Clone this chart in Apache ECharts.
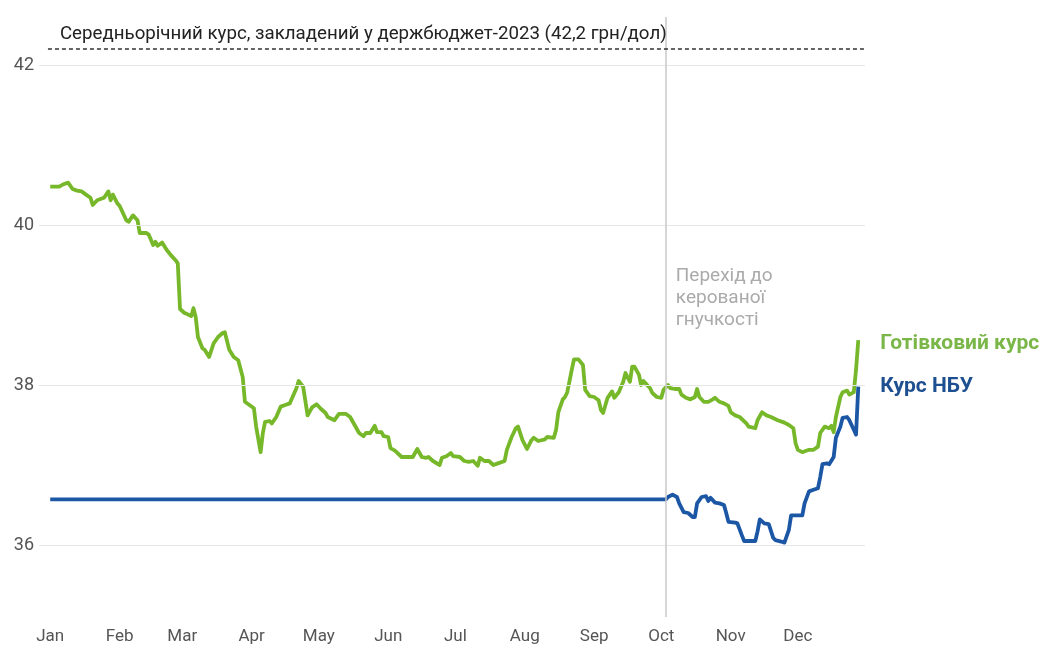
<!DOCTYPE html>
<html>
<head>
<meta charset="utf-8">
<script src="https://cdn.jsdelivr.net/npm/echarts@6/dist/echarts.min.js"></script>
<style>
    html, body { margin: 0; padding: 0; background: #fff; }
    #chart { width: 1041px; height: 646px; }
</style>
</head>
<body>
<div id="chart"></div>
<script>
// дні року: 0 = 1 січня 2023
var months = ['Jan', 'Feb', 'Mar', 'Apr', 'May', 'Jun', 'Jul', 'Aug', 'Sep', 'Oct', 'Nov', 'Dec'];
var monthStarts = [0, 31, 59, 90, 120, 151, 181, 212, 243, 273, 304, 334];
var yTicks = [36, 38, 40, 42];

// готівковий курс
var cashDays = [0, 4, 6, 8, 10, 12, 14, 16, 18, 19, 21, 24, 26, 27, 28, 30, 31, 34, 35, 37, 39,
    40, 43, 44, 46, 47, 48, 50, 52, 54, 56, 57, 58, 60, 61, 63, 64, 65, 66, 68, 69, 71, 73, 75, 77, 78,
    80, 82, 84, 86, 87, 89, 91, 92, 94, 95, 96, 98, 99, 101, 103, 105, 107, 110, 111, 113, 115, 117,
    119, 121, 123, 124, 127, 129, 132, 134, 136, 138, 140, 141, 143, 145, 146, 148, 149, 151, 152,
    154, 157, 159, 161, 162, 164, 166, 168, 169, 171, 174, 175, 177, 179, 180, 183, 185, 187, 189,
    191, 192, 194, 196, 198, 200, 203, 204, 206, 208, 209, 211, 213, 215, 216, 218, 221, 222, 225,
    226, 227, 229, 230, 231, 233, 234, 236, 238, 239, 241, 243, 245, 246, 247, 249, 251, 252, 254,
    256, 257, 259, 260, 261, 263, 264, 265, 266, 268, 269, 271, 273, 274, 276, 277, 279, 281, 282,
    284, 286, 288, 289, 290, 292, 294, 296, 297, 299, 301, 303, 304, 306, 308, 311, 312, 315, 316,
    318, 320, 322, 325, 328, 330, 332, 333, 334, 336, 339, 341, 343, 344, 346, 348, 349, 350, 351,
    353, 354, 356, 357, 359, 360, 361];
var cashRate = [40.48, 40.48, 40.51, 40.53, 40.45, 40.43, 40.42, 40.38, 40.34, 40.25, 40.31, 40.34,
    40.42, 40.31, 40.38, 40.27, 40.24, 40.06, 40.04, 40.12, 40.06,
    39.9, 39.9, 39.88, 39.75, 39.79, 39.74, 39.78, 39.69, 39.62, 39.56, 39.52, 38.95, 38.9, 38.89,
    38.86, 38.96, 38.85, 38.6, 38.46, 38.44, 38.35, 38.52, 38.6, 38.65, 38.66,
    38.44, 38.35, 38.31, 38.1, 37.79, 37.75, 37.71, 37.48, 37.16, 37.4, 37.54, 37.55, 37.52, 37.6,
    37.73, 37.75, 37.77, 37.96, 38.05, 37.98, 37.62, 37.72,
    37.76, 37.7, 37.65, 37.6, 37.56, 37.64, 37.64, 37.6, 37.5, 37.4, 37.36, 37.4, 37.4, 37.49, 37.41,
    37.41, 37.36, 37.35, 37.21,
    37.18, 37.1, 37.1, 37.1, 37.1, 37.2, 37.1, 37.09, 37.1, 37.05, 37.0, 37.09, 37.11, 37.15, 37.11,
    37.1, 37.05, 37.04, 37.05,
    36.99, 37.09, 37.05, 37.05, 37.0, 37.02, 37.05, 37.19, 37.34, 37.46, 37.48, 37.31, 37.2, 37.31,
    37.34, 37.3, 37.32, 37.35, 37.34,
    37.44, 37.66, 37.82, 37.85, 37.91, 38.19, 38.32, 38.32, 38.25, 37.94, 37.86, 37.85, 37.81, 37.69,
    37.65, 37.84, 37.92, 37.84, 37.91,
    38.04, 38.15, 38.04, 38.23, 38.23, 38.13, 38.0, 38.05, 38.02, 37.96, 37.9, 37.85, 37.84, 37.94,
    38.0, 37.96, 37.95, 37.95, 37.88,
    37.84, 37.82, 37.85, 37.95, 37.85, 37.79, 37.79, 37.82, 37.84, 37.79, 37.77, 37.74, 37.66, 37.62,
    37.6, 37.52, 37.48, 37.46, 37.56,
    37.66, 37.62, 37.6, 37.56, 37.53, 37.5, 37.46, 37.27, 37.19, 37.16, 37.19, 37.19, 37.23, 37.4,
    37.48, 37.46, 37.49, 37.41, 37.6,
    37.85, 37.91, 37.93, 37.88, 37.91, 38.19, 38.56];

// офіційний курс НБУ
var nbuDays = [0, 275, 276, 278, 280, 281, 283, 285, 287, 288, 289, 291, 293, 294, 295, 297, 299,
    301, 302, 303, 306, 307, 309, 310, 312, 315, 316, 317, 319, 321, 323, 324, 327, 328, 330, 331,
    333, 336, 337, 339, 341, 343, 344, 345, 347, 348, 350, 351, 353, 354, 356, 357, 359, 360, 361];
var nbuRate = [36.57, 36.57, 36.6, 36.63, 36.6, 36.52, 36.41, 36.4, 36.35, 36.35, 36.52, 36.6,
    36.61, 36.55, 36.59, 36.53, 36.52,
    36.5, 36.4, 36.29, 36.28, 36.27, 36.12, 36.05, 36.05, 36.05, 36.17, 36.32, 36.27, 36.26, 36.09,
    36.06, 36.04, 36.03, 36.19, 36.37,
    36.37, 36.37, 36.52, 36.67, 36.69, 36.71, 36.85, 37.01, 37.02, 37.01, 37.1, 37.34, 37.48, 37.59,
    37.6, 37.56, 37.44, 37.38, 37.98];

var budgetRate = 42.2;
var flexDay = 275;

function pairs(days, values) {
    var out = [];
    for (var i = 0; i < days.length; i++) {
        out.push([days[i], values[i]]);
    }
    return out;
}

var myChart = echarts.init(document.getElementById('chart'));
var font = 'Roboto, "Noto Sans", sans-serif';

var gridLines = [];
for (var i = 0; i < yTicks.length; i++) {
    gridLines.push({ yAxis: yTicks[i] });
}

var option = {
    animation: false,
    textStyle: { fontFamily: font },
    grid: { left: 39, right: 176, top: 17, bottom: 29, containLabel: false },
    xAxis: {
        type: 'value',
        min: -5,
        max: 364,
        axisLine: { show: false },
        axisTick: { show: false },
        splitLine: { show: false },
        axisLabel: {
            customValues: monthStarts,
            margin: 11,
            color: '#555',
            fontSize: 17,
            fontFamily: font,
            formatter: function (v) {
                return months[monthStarts.indexOf(v)];
            }
        }
    },
    yAxis: {
        type: 'value',
        min: 35.1,
        max: 42.6,
        axisLine: { show: false },
        axisTick: { show: false },
        splitLine: { show: false },
        axisLabel: {
            customValues: yTicks,
            margin: 5,
            color: '#555',
            fontSize: 18,
            fontFamily: font
        }
    },
    series: [
        {
            // сітка, лінія бюджету та вертикальна позначка
            type: 'line',
            data: [],
            silent: true,
            markLine: {
                silent: true,
                symbol: 'none',
                animation: false,
                label: { show: false },
                lineStyle: { color: '#e6e6e6', width: 1, type: 'solid' },
                data: gridLines.concat([
                    { xAxis: flexDay, lineStyle: { color: '#c8c8c8', width: 1.5, type: 'solid' } },
                    [
                        {
                            coord: [-1, budgetRate],
                            lineStyle: { color: '#333', width: 1.5, type: [4, 3] },
                            label: {
                                show: true,
                                position: 'insideStartTop',
                                formatter: 'Середньорічний курс, закладений у держбюджет-2023 (42,2 грн/дол)',
                                color: '#222',
                                fontSize: 18.7,
                                fontFamily: font,
                                distance: [12, 5]
                            }
                        },
                        { coord: [364, budgetRate] }
                    ]
                ])
            }
        },
        {
            name: 'Готівковий курс',
            type: 'line',
            data: pairs(cashDays, cashRate),
            showSymbol: false,
            z: 3,
            lineStyle: { color: '#76b82a', width: 3.8, join: 'round' },
            itemStyle: { color: '#76b82a' },
            endLabel: {
                show: true,
                formatter: 'Готівковий курс',
                distance: 22,
                offset: [0, 4],
                color: '#7ab648',
                fontSize: 21,
                fontWeight: 'bold',
                fontFamily: font
            }
        },
        {
            name: 'Курс НБУ',
            type: 'line',
            data: pairs(nbuDays, nbuRate),
            showSymbol: false,
            z: 4,
            lineStyle: { color: '#1c57a5', width: 3.8, join: 'round' },
            itemStyle: { color: '#1c57a5' },
            endLabel: {
                show: true,
                formatter: 'Курс НБУ',
                distance: 22,
                color: '#1d4f91',
                fontSize: 21,
                fontWeight: 'bold',
                fontFamily: font
            }
        }
    ]
};

myChart.setOption(option);

// підпис біля вертикальної лінії
var p = myChart.convertToPixel({ gridIndex: 0 }, [flexDay, 39.5]);
myChart.setOption({
    graphic: [{
        type: 'text',
        x: p[0] + 10,
        y: p[1],
        silent: true,
        style: {
            text: 'Перехід до\nкерованої\nгнучкості',
            fill: '#aaaaaa',
            font: '19px ' + font,
            lineHeight: 22,
            verticalAlign: 'top'
        }
    }]
});
</script>
</body>
</html>
